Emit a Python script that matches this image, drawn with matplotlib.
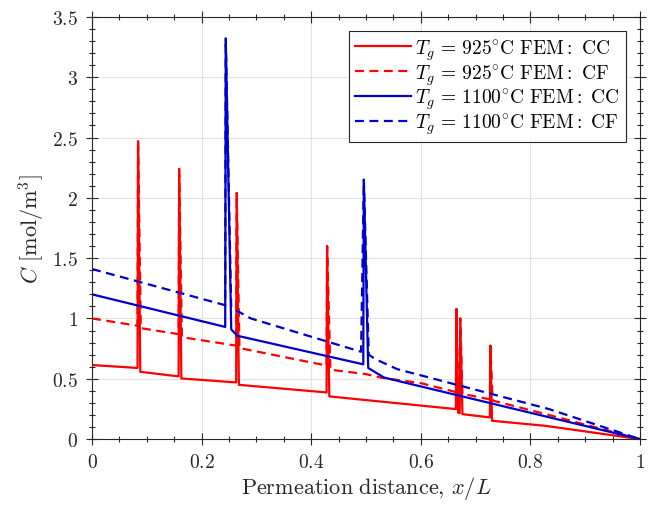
import matplotlib
matplotlib.use("Agg")
import matplotlib.pyplot as plt
from matplotlib.ticker import MultipleLocator

plt.rcParams['mathtext.fontset'] = 'cm'
plt.rcParams['font.family'] = 'serif'
plt.rcParams['font.serif'] = ['cmr10', 'DejaVu Serif']
plt.rcParams['axes.formatter.use_mathtext'] = True

# T_g = 925 C, FEM: CC (solid red)
x_925_cc = [0, 0.083, 0.084, 0.088, 0.158, 0.159, 0.163, 0.263, 0.264, 0.268,
            0.428, 0.429, 0.433, 0.664, 0.665, 0.668, 0.671, 0.672, 0.676,
            0.726, 0.727, 0.730, 0.828, 1.0]
c_925_cc = [0.614, 0.59, 2.47, 0.558, 0.52, 2.24, 0.503, 0.47, 2.04, 0.45,
            0.387, 1.60, 0.354, 0.249, 1.078, 0.22, 0.215, 1.0, 0.207,
            0.18, 0.774, 0.152, 0.11, 0.0]

# T_g = 925 C, FEM: CF (dashed red)
x_925_cf = [0, 0.083, 0.084, 0.089, 0.158, 0.159, 0.164, 0.263, 0.264, 0.269,
            0.428, 0.429, 0.435, 0.5, 0.527, 0.6, 0.664, 0.665, 0.668, 0.671,
            0.672, 0.676, 0.726, 0.727, 0.731, 0.834, 1.0]
c_925_cf = [1.0, 0.94, 2.47, 0.92, 0.87, 2.24, 0.845, 0.775, 2.04, 0.755,
            0.61, 1.60, 0.575, 0.539, 0.51, 0.464, 0.39, 1.078, 0.385, 0.38,
            1.0, 0.375, 0.33, 0.774, 0.32, 0.2, 0.0]

# T_g = 1100 C, FEM: CC (solid blue)
x_1100_cc = [0, 0.243, 0.244, 0.254, 0.265, 0.495, 0.496, 0.504, 0.533, 1.0]
c_1100_cc = [1.2, 0.93, 3.32, 0.91, 0.857, 0.62, 2.15, 0.59, 0.51, 0.0]

# T_g = 1100 C, FEM: CF (dashed blue)
x_1100_cf = [0, 0.243, 0.244, 0.254, 0.29, 0.491, 0.496, 0.505, 0.517, 0.557, 0.834, 1.0]
c_1100_cf = [1.41, 1.11, 3.32, 1.09, 1.0, 0.724, 2.15, 0.70, 0.663, 0.58, 0.249, 0.0]

labels = [r'$T_g\,=\,925^{\circ}\mathrm{C\ FEM{:}\ CC}$',
          r'$T_g\,=\,925^{\circ}\mathrm{C\ FEM{:}\ CF}$',
          r'$T_g\,=\,1100^{\circ}\mathrm{C\ FEM{:}\ CC}$',
          r'$T_g\,=\,1100^{\circ}\mathrm{C\ FEM{:}\ CF}$']

x_ticks = [0, 0.2, 0.4, 0.6, 0.8, 1.0]
x_ticklabels = ['$0$', '$0.2$', '$0.4$', '$0.6$', '$0.8$', '$1$']
y_ticks = [0, 0.5, 1, 1.5, 2, 2.5, 3, 3.5]
y_ticklabels = ['$0$', '$0.5$', '$1$', '$1.5$', '$2$', '$2.5$', '$3$', '$3.5$']

red = '#ff0000'
blue = '#0000cc'
dash = (0, (4, 2.5))
lw = 1.6

fig = plt.figure(figsize=(6.67, 5.1), dpi=100)
ax = fig.add_axes([0.138, 0.137, 0.8215, 0.828])

ax.plot(x_925_cc, c_925_cc, color=red, lw=lw, label=labels[0])
ax.plot(x_925_cf, c_925_cf, color=red, lw=lw, linestyle=dash, label=labels[1])
ax.plot(x_1100_cc, c_1100_cc, color=blue, lw=lw, label=labels[2])
ax.plot(x_1100_cf, c_1100_cf, color=blue, lw=lw, linestyle=dash, label=labels[3])

ax.set_xlim(0, 1)
ax.set_ylim(0, 3.5)
ax.set_xticks(x_ticks)
ax.set_xticklabels(x_ticklabels, fontsize=14)
ax.set_yticks(y_ticks)
ax.set_yticklabels(y_ticklabels, fontsize=14)
ax.xaxis.set_minor_locator(MultipleLocator(0.05))
ax.yaxis.set_minor_locator(MultipleLocator(0.1))

axcol = '#262626'
for s in ax.spines.values():
    s.set_color(axcol)
    s.set_linewidth(0.8)
ax.tick_params(which='both', direction='inout', top=True, right=True,
               color=axcol, width=0.8, labelcolor=axcol)
ax.tick_params(which='major', length=8, pad=6)
ax.tick_params(which='minor', length=5)
ax.grid(True, which='major', color='#e3e3e3', lw=0.8)
ax.set_axisbelow(True)

ax.set_xlabel(r'$\mathrm{Permeation\ distance,}\,x/L$', fontsize=16, color=axcol, labelpad=2)
ax.set_ylabel(r'$C\ [\mathrm{mol/m^3}]$', fontsize=16, color=axcol, labelpad=4)

leg = ax.legend(loc='upper right', fontsize=14, handlelength=2.9, handletextpad=0.2,
                labelspacing=0.0, borderpad=0.3, borderaxespad=0.72,
                fancybox=False, framealpha=1, edgecolor=axcol)
leg.get_frame().set_linewidth(0.8)

fig.savefig('out.png', dpi=100)
